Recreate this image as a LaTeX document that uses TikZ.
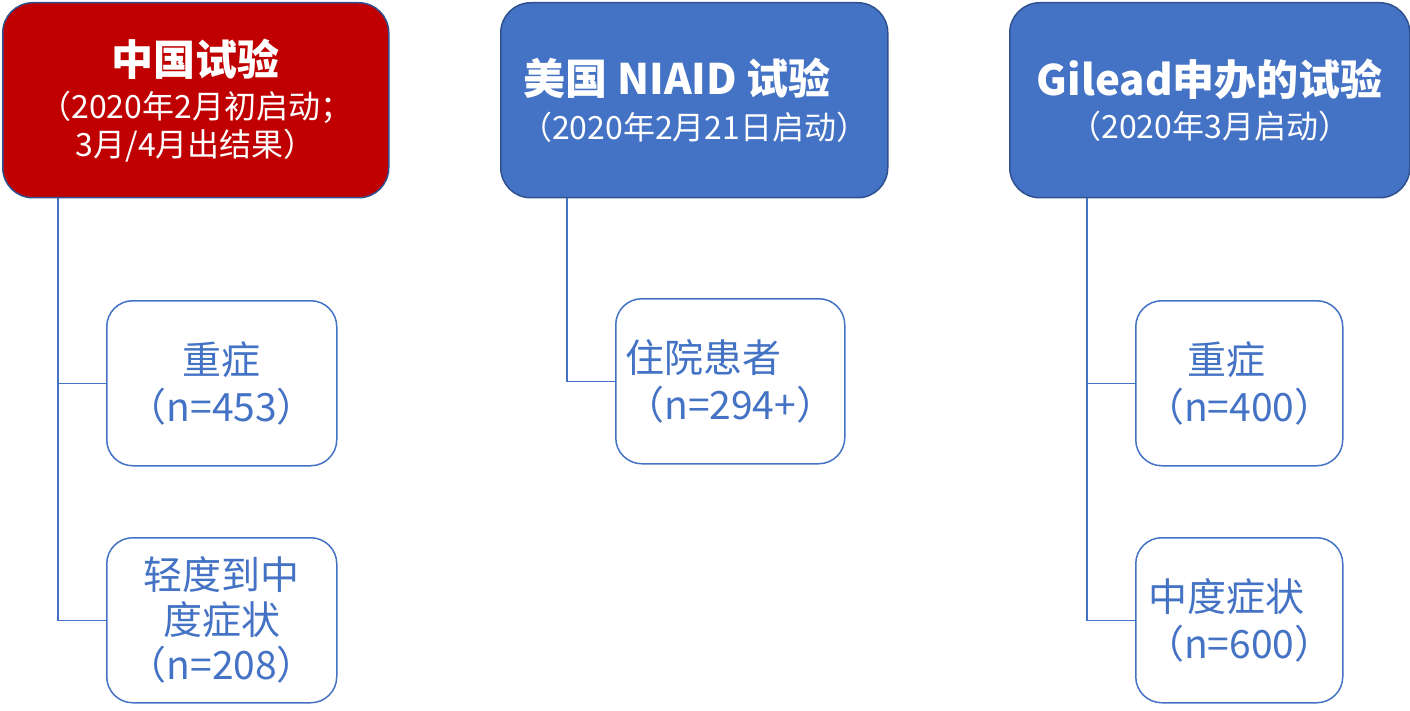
\documentclass[tikz,border=0pt]{standalone}
\usepackage{fontspec}
\setmainfont{Noto Sans CJK SC}
\usetikzlibrary{positioning}
\definecolor{trialred}{HTML}{C00000}
\definecolor{trialblue}{HTML}{4472C4}
\definecolor{trialedge}{HTML}{2F528F}

\begin{document}
\begin{tikzpicture}[x=1pt, y=-1pt, text centered,
  head/.style = {rectangle, rounded corners=30pt, draw=trialedge, line width=1.5pt,
                 fill=trialblue, text=white, inner sep=0pt, anchor=north west,
                 minimum width=386pt, minimum height=195pt, align=center,
                 font=\fontsize{32}{38}\selectfont},
  arm/.style = {rectangle, rounded corners=26pt, draw=trialblue, line width=1.5pt,
                 fill=white, text=trialblue, inner sep=0pt, anchor=north west,
                 minimum width=230pt, minimum height=165pt, align=center,
                 font=\fontsize{39}{47}\selectfont},
  branch/.style = {draw=trialblue, line width=1.5pt}
                    ]
\useasboundingbox (0,0) rectangle (1410,711);
\newcommand{\tit}{\fontsize{42}{46}\selectfont\bfseries}
\node (china) [head, fill=trialred] at (2,2)
  {{\tit 中国试验}\\[5pt] （2020年2月初启动；\\ 3月/4月出结果）};
\node (niaid) [head, minimum width=387pt] at (500,2)
  {{\tit 美国 NIAID 试验}\hspace*{34pt}\\[7pt] （2020年2月21日启动）};
\node (gilead) [head, minimum width=400pt] at (1009,2)
  {{\tit Gilead申办的试验}\\[5pt] （2020年3月启动）};

\node (chinaSevere) [arm] at (106,300) {重症\\（n=453）};
\node (chinaMild) [arm, font=\fontsize{39}{45}\selectfont] at (106,537) {轻度到中\\度症状\\（n=208）};
\node (niaidHosp) [arm, minimum width=229pt, align=left] at (615,298) {住院患者\\（n=294+）};
\node (gileadSevere) [arm, minimum width=207pt] at (1135,300) {重症\hspace*{26pt}\\（n=400）};
\node (gileadMod) [arm, minimum width=207pt] at (1135,537) {中度症状\hspace*{26pt}\\（n=600）};
% connections
\coordinate (chinaRoot) at ([xshift=56pt]china.south west);
\coordinate (niaidRoot) at ([xshift=67pt]niaid.south west);
\coordinate (gileadRoot) at ([xshift=78pt]gilead.south west);

\draw [branch] (chinaRoot) |- (chinaSevere.west);
\draw [branch] (chinaRoot) |- (chinaMild.west);
\draw [branch] (niaidRoot) |- (niaidHosp.west);
\draw [branch] (gileadRoot) |- (gileadSevere.west);
\draw [branch] (gileadRoot) |- (gileadMod.west);
\end{tikzpicture}
\end{document}
